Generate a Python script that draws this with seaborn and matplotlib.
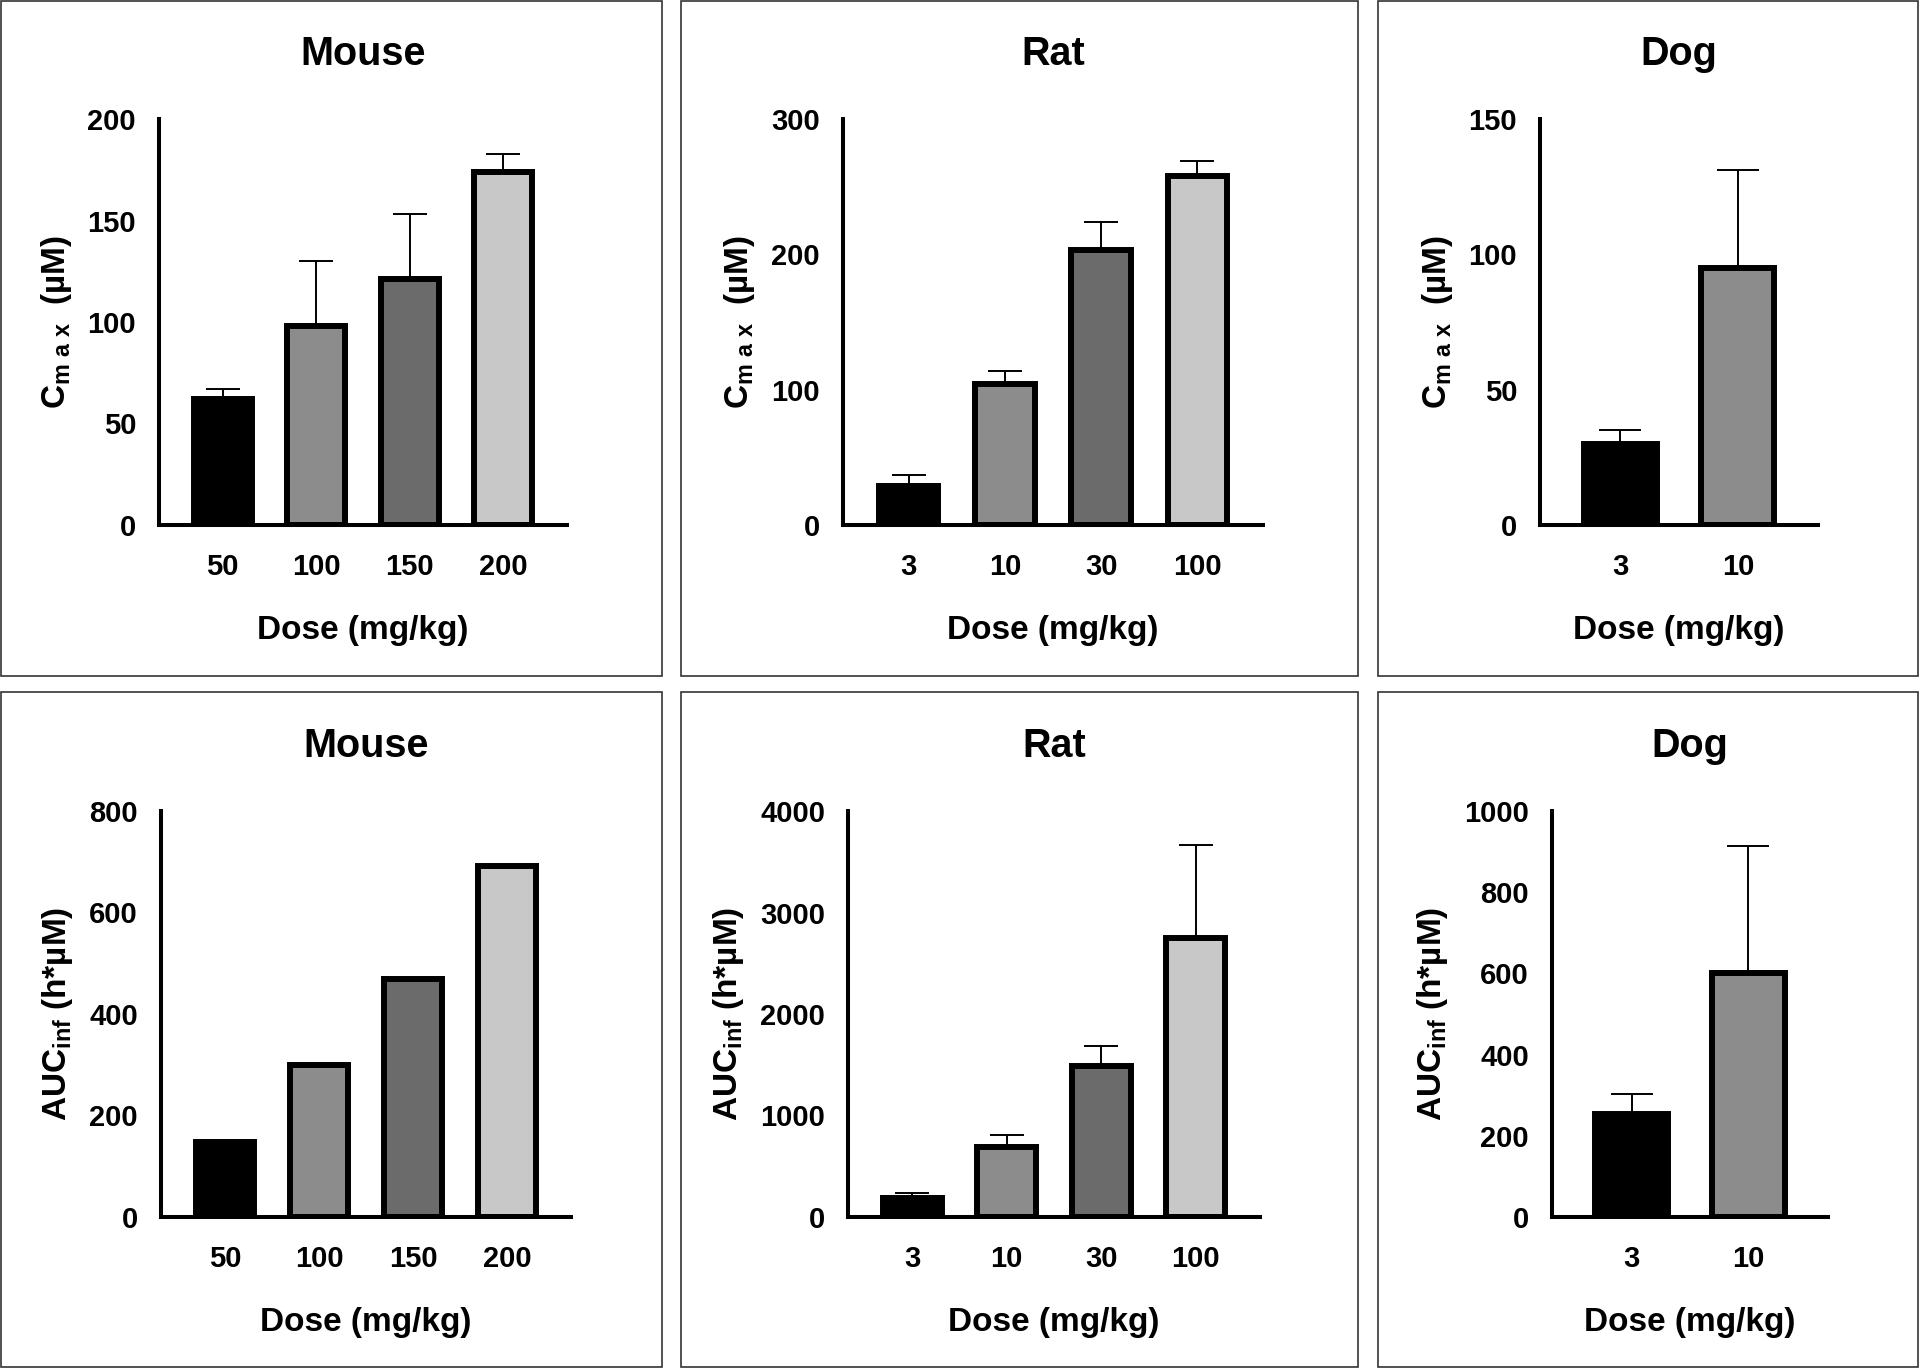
import matplotlib
matplotlib.use("Agg")
import matplotlib.pyplot as plt
import numpy as np
import seaborn as sns

# dose groups
mouse_doses = ["50", "100", "150", "200"]
rat_doses = ["3", "10", "30", "100"]
dog_doses = ["3", "10"]

# Cmax (uM), mean and upper SD
mouse_cmax = [62, 98, 121, 174]
mouse_cmax_sd = [5, 32, 32, 9]
rat_cmax = [29, 104, 203, 258]
rat_cmax_sd = [8, 10, 21, 11]
dog_cmax = [30, 95]
dog_cmax_sd = [5, 36]

# AUCinf (h*uM)
mouse_auc = [148, 300, 468, 692]
rat_auc = [185, 685, 1490, 2750]
rat_auc_sd = [50, 120, 195, 915]
dog_auc = [253, 600]
dog_auc_sd = [51, 315]

bar_colors = ["#000000", "#8c8c8c", "#6b6b6b", "#c8c8c8"]

sns.set_style("white")
plt.rcParams["font.family"] = ["Liberation Sans", "DejaVu Sans"]
plt.rcParams["font.weight"] = "bold"
plt.rcParams["text.color"] = "black"
plt.rcParams["axes.labelcolor"] = "black"
plt.rcParams["xtick.color"] = "black"
plt.rcParams["ytick.color"] = "black"
plt.rcParams["mathtext.fontset"] = "custom"
plt.rcParams["mathtext.rm"] = "Liberation Sans:bold"
plt.rcParams["mathtext.it"] = "Liberation Sans:bold"
plt.rcParams["mathtext.bf"] = "Liberation Sans:bold"

W, H = 1920, 1369
fig = plt.figure(figsize=(W / 100, H / 100), dpi=100)

CMAX_LABEL = r"C$_{\mathrm{m\ a\ x}}$  (µM)"
AUC_LABEL = r"AUC$_{\mathrm{inf}}$ (h*µM)"


def add_axes_px(left, right, top, bottom):
	return fig.add_axes([left / W, 1 - bottom / H, (right - left) / W, (bottom - top) / H])


def draw_panel(ax, doses, values, errors, ymax, ystep, title, ylabel, capsize):
	n = len(doses)
	sns.barplot(x=doses, y=values, hue=doses, palette=bar_colors[:n], legend=False,
	            width=0.62, edgecolor="black", linewidth=4.3, saturation=1,
	            errorbar=None, ax=ax)
	if errors is not None:
		ax.errorbar(np.arange(n), values, yerr=[np.zeros(n), errors], fmt="none",
		            ecolor="black", elinewidth=1.4, capsize=capsize, capthick=1.4, zorder=0.5)
	ax.set_xlim(-0.68, n - 1 + 0.68)
	ax.set_ylim(0, ymax)
	ax.set_yticks(np.arange(0, ymax + 1, ystep))
	sns.despine(ax=ax)
	for side in ["left", "bottom"]:
		ax.spines[side].set_linewidth(2.9)
		ax.spines[side].set_color("black")
	ax.tick_params(axis="both", width=2.9, length=11.5, labelsize=21, colors="black")
	ax.tick_params(axis="y", pad=5)
	ax.tick_params(axis="x", pad=9)
	ax.set_title(title, fontsize=28.5, fontweight="bold", pad=39, color="black")
	ax.set_xlabel("Dose (mg/kg)", fontsize=24, fontweight="bold", labelpad=24)
	ax.set_ylabel(ylabel, fontsize=24, fontweight="bold", labelpad=10)


panels = [
	((159, 567, 119, 525), mouse_doses, mouse_cmax, mouse_cmax_sd, 200, 50, "Mouse", CMAX_LABEL, 12),
	((843, 1263, 119, 525), rat_doses, rat_cmax, rat_cmax_sd, 300, 100, "Rat", CMAX_LABEL, 12),
	((1540, 1818, 119, 525), dog_doses, dog_cmax, dog_cmax_sd, 150, 50, "Dog", CMAX_LABEL, 15),
	((161, 571, 811, 1217), mouse_doses, mouse_auc, None, 800, 200, "Mouse", AUC_LABEL, 12),
	((848, 1260, 811, 1217), rat_doses, rat_auc, rat_auc_sd, 4000, 1000, "Rat", AUC_LABEL, 12),
	((1552, 1828, 811, 1217), dog_doses, dog_auc, dog_auc_sd, 1000, 200, "Dog", AUC_LABEL, 15),
]

for box, doses, vals, errs, ymax, ystep, title, ylabel, cap in panels:
	ax = add_axes_px(*box)
	draw_panel(ax, doses, vals, errs, ymax, ystep, title, ylabel, cap)

# frames around each panel
frames = [(1, 662, 1, 676), (681, 1358, 1, 676), (1378, 1918, 1, 676),
          (1, 662, 692, 1367), (681, 1358, 692, 1367), (1378, 1918, 692, 1367)]
for x0, x1, y0, y1 in frames:
	fig.add_artist(plt.Rectangle((x0 / W, 1 - y1 / H), (x1 - x0) / W, (y1 - y0) / H,
	                             transform=fig.transFigure, fill=False, lw=1.2, ec="#333333"))

fig.savefig("out.png", dpi=100, facecolor="white")
